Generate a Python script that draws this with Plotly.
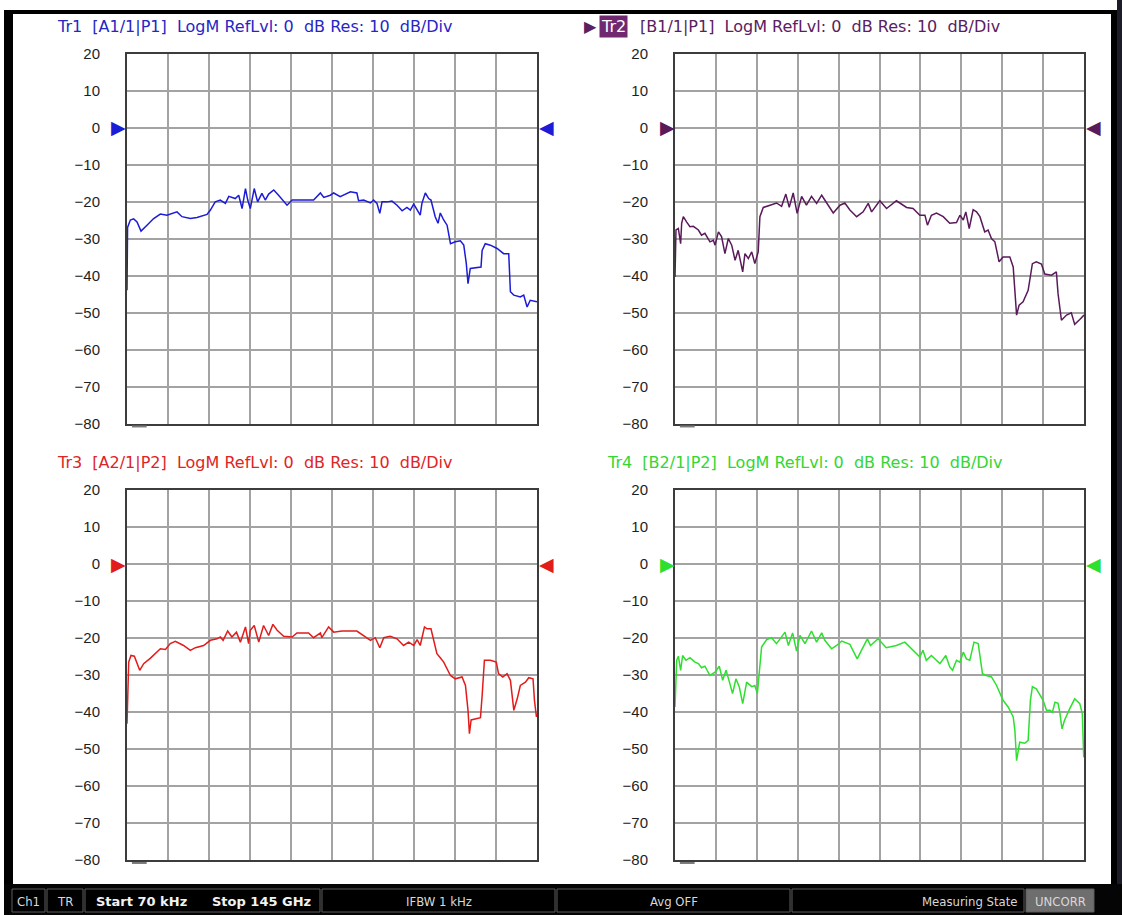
import plotly.graph_objects as go

# ------------------------------------------
# DATA (frequency in GHz, level in dB)
# ------------------------------------------
F_START, F_STOP = 0.00007, 145.0
REF_LEVEL = 0
Y_MIN, Y_MAX, Y_DIV = -80, 20, 10
TICK_VALS = [20, 10, 0, -10, -20, -30, -40, -50, -60, -70, -80]

TR1_GHZ = [0.00007, 0.1, 0.2, 1.18, 2.36, 3.54, 4.95, 7.07, 9.43, 11.79, 14.15, 17.68, 19.45, 22.4,
           24.76, 28.3, 29.5, 31.2, 33.0, 34.8, 36.0, 38.3, 39.5, 40.7, 41.9, 42.7, 43.6, 45.0, 46.2,
           47.7, 48.9, 50.1, 51.9, 53.6, 55.4, 56.6, 58.4, 61.3, 66.0, 68.4, 69.6, 71.9, 73.1, 75.4,
           76.6, 79.0, 81.3, 81.9, 83.7, 86.1, 87.2, 88.4, 89.4, 90.2, 92.0, 93.7, 95.5, 97.3, 99.0,
           100.2, 101.4, 102.6, 103.7, 104.3, 105.5, 106.7, 107.5, 109.0, 110.0, 110.8, 112.0, 113.2,
           114.4, 116.1, 117.9, 119.1, 120.0, 120.6, 121.4, 125.2, 125.6, 126.7, 128.5, 130.9, 133.2,
           135.0, 135.6, 136.8, 139.1, 140.3, 141.5, 142.6, 145.0]
TR1_DB = [-44.0, -37.5, -27.0, -25.0, -24.7, -25.5, -28.0, -26.4, -24.6, -23.4, -23.7, -22.8, -24.1,
          -24.6, -24.3, -23.5, -22.3, -20.1, -19.6, -20.5, -18.6, -19.2, -18.3, -21.9, -16.5, -19.6,
          -21.9, -16.5, -20.1, -17.8, -19.6, -18.0, -16.9, -18.3, -20.1, -21.0, -19.6, -19.6, -19.6,
          -17.7, -18.9, -18.3, -17.7, -18.7, -18.3, -17.4, -17.7, -19.8, -19.6, -20.4, -19.6, -20.5,
          -23.2, -20.1, -20.1, -19.9, -21.0, -22.5, -21.6, -22.3, -20.7, -22.2, -23.7, -20.5, -17.7,
          -19.2, -19.6, -24.1, -25.9, -23.1, -25.0, -26.4, -31.4, -30.9, -30.6, -31.8, -36.8, -42.2,
          -38.1, -37.7, -33.2, -31.4, -31.8, -32.7, -34.1, -34.1, -44.4, -45.3, -45.8, -45.3, -48.5,
          -46.7, -47.1]

TR2_GHZ = [0.00007, 0.1, 0.35, 1.18, 2.0, 2.36, 2.95, 4.1, 5.3, 6.5, 8.3, 9.4, 10.6, 12.4, 13.6, 14.2,
           15.4, 16.5, 17.7, 18.9, 20.1, 21.3, 22.4, 24.0, 24.8, 26.0, 27.2, 28.3, 29.5, 30.1, 31.3,
           33.7, 36.0, 37.8, 39.3, 40.5, 41.9, 43.3, 44.9, 46.6, 48.4, 50.2, 52.0, 53.1, 56.1, 58.5,
           60.2, 62.0, 64.4, 66.7, 68.5, 69.7, 72.6, 75.0, 78.5, 82.1, 84.4, 86.8, 88.6, 89.5, 90.9,
           92.7, 95.1, 97.4, 99.8, 101.0, 102.2, 103.1, 104.3, 105.7, 106.9, 108.1, 109.8, 111.0,
           112.2, 113.4, 114.9, 116.3, 118.7, 119.9, 120.5, 121.1, 122.0, 123.4, 125.2, 126.7, 128.1,
           129.9, 131.1, 133.5, 135.2, 135.8, 137.0, 138.8, 140.5, 141.7, 143.5, 145.0]
TR2_DB = [-40.4, -36.8, -27.7, -27.3, -31.4, -25.9, -24.1, -25.5, -26.8, -26.7, -27.7, -29.1, -28.6,
          -30.9, -30.5, -31.8, -28.2, -29.5, -34.1, -30.0, -31.8, -35.9, -33.2, -39.0, -34.1, -35.4,
          -33.6, -36.8, -33.6, -24.1, -21.6, -21.0, -20.4, -21.3, -18.0, -21.6, -17.7, -23.2, -18.6,
          -21.0, -18.6, -20.5, -18.3, -19.6, -23.1, -21.0, -20.4, -22.3, -24.1, -22.8, -20.5, -22.8,
          -19.8, -21.9, -19.8, -21.6, -21.9, -23.7, -23.7, -26.4, -23.7, -23.1, -24.1, -25.9, -25.7,
          -23.7, -25.0, -22.8, -27.3, -22.2, -22.8, -24.1, -28.2, -27.7, -30.0, -30.9, -36.3, -35.0,
          -35.0, -37.7, -44.9, -50.7, -48.0, -47.1, -44.0, -36.8, -36.3, -36.9, -39.6, -39.9, -39.0,
          -44.9, -52.1, -50.7, -50.1, -53.2, -51.9, -50.7]

TR3_GHZ = [0.00007, 0.25, 0.6, 1.4, 2.6, 4.5, 5.9, 8.3, 11.8, 13.6, 15.3, 17.1, 20.0, 22.4, 24.2, 27.1,
           29.5, 31.8, 33.0, 34.0, 35.6, 37.1, 38.7, 40.1, 41.9, 43.0, 43.6, 45.0, 46.6, 48.3, 50.1,
           51.6, 53.1, 55.4, 58.4, 60.1, 64.2, 66.0, 68.4, 68.9, 71.3, 73.1, 76.0, 81.3, 83.7, 86.1,
           87.8, 89.4, 90.8, 93.1, 95.5, 97.8, 99.6, 101.4, 102.6, 103.7, 105.2, 106.1, 107.5, 108.5,
           109.6, 110.8, 112.0, 114.4, 116.1, 118.5, 119.7, 120.6, 121.1, 121.7, 125.0, 125.6, 126.4,
           128.5, 130.6, 131.4, 132.9, 134.4, 135.6, 136.8, 138.0, 139.1, 140.9, 142.1, 143.6, 144.1,
           144.8, 145.0]
TR3_DB = [-43.2, -37.4, -26.6, -24.8, -25.0, -28.8, -27.0, -25.5, -23.0, -23.2, -21.6, -21.0, -22.1,
          -23.4, -22.7, -22.1, -20.7, -20.3, -19.8, -20.7, -18.2, -19.8, -18.5, -21.2, -17.1, -21.6,
          -18.0, -16.7, -21.2, -16.7, -19.4, -16.4, -18.0, -19.6, -19.8, -18.7, -18.7, -20.0, -18.7,
          -20.0, -17.1, -18.5, -18.2, -18.2, -19.4, -20.7, -20.0, -22.7, -20.0, -19.6, -20.3, -22.1,
          -21.2, -22.1, -20.5, -22.1, -17.1, -17.6, -17.6, -20.7, -24.3, -25.4, -26.6, -30.2, -31.1,
          -30.6, -32.9, -39.6, -45.9, -42.2, -41.6, -35.6, -26.1, -26.1, -26.6, -29.7, -30.6, -29.7,
          -31.5, -39.6, -36.5, -32.9, -32.0, -30.8, -31.1, -36.9, -41.4, -40.5]

TR4_GHZ = [0.00007, 0.25, 0.6, 1.2, 2.0, 2.7, 3.9, 5.3, 7.1, 8.3, 9.4, 10.6, 12.4, 14.2, 15.7, 16.9,
           18.1, 19.3, 20.4, 21.6, 22.8, 24.0, 25.4, 27.2, 28.3, 29.2, 29.9, 30.7, 32.5, 34.2, 36.0,
           37.4, 39.0, 40.2, 41.7, 43.1, 44.3, 46.1, 48.4, 50.2, 52.0, 53.1, 55.5, 57.3, 59.1, 62.0,
           64.6, 66.1, 68.2, 69.3, 72.0, 74.9, 78.5, 81.5, 84.4, 86.8, 87.9, 89.1, 90.9, 92.1, 93.9,
           96.0, 97.4, 98.4, 99.8, 101.0, 102.2, 103.3, 104.5, 106.0, 107.5, 109.0, 110.4, 112.2,
           114.0, 116.3, 118.1, 119.9, 120.5, 121.1, 122.2, 124.0, 125.2, 126.0, 126.7, 128.1, 130.5,
           131.7, 132.9, 133.8, 134.7, 135.8, 136.4, 137.2, 138.1, 139.9, 141.7, 143.5, 144.4, 144.9]
TR4_DB = [-38.7, -34.2, -26.1, -25.0, -28.8, -24.8, -26.1, -25.4, -26.6, -27.0, -28.1, -27.7, -30.2,
          -29.3, -27.7, -31.5, -28.8, -32.0, -35.1, -31.1, -33.3, -37.8, -32.0, -33.2, -32.9, -35.1,
          -29.7, -22.5, -20.5, -20.0, -21.6, -20.0, -18.5, -22.1, -18.7, -23.6, -19.4, -21.6, -18.2,
          -21.2, -18.7, -20.7, -23.0, -22.1, -20.9, -21.8, -25.7, -23.4, -20.3, -22.1, -20.3, -22.7,
          -22.1, -21.2, -23.4, -25.2, -23.4, -26.1, -24.8, -25.7, -27.0, -24.8, -27.9, -28.8, -26.1,
          -26.6, -23.9, -25.7, -26.1, -21.2, -21.6, -29.7, -30.2, -30.6, -32.9, -36.9, -38.7, -41.4,
          -45.0, -53.2, -48.2, -48.5, -47.7, -36.9, -33.2, -33.8, -36.9, -39.6, -39.6, -40.1, -37.4,
          -37.7, -40.1, -44.6, -42.3, -39.2, -36.5, -37.8, -40.5, -52.3]

TITLE_TAIL = "LogM RefLvl: 0\u00a0 dB Res: 10\u00a0 dB/Div"
TRACES = [
    # name, port label, x, y, line colour, title colour
    ("Tr1", "[A1/1|P1]", TR1_GHZ, TR1_DB, "#1c1cd6", "#2626c4"),
    ("Tr2", "[B1/1|P1]", TR2_GHZ, TR2_DB, "#5a1a5a", "#5a2060"),
    ("Tr3", "[A2/1|P2]", TR3_GHZ, TR3_DB, "#e31b1b", "#e02424"),
    ("Tr4", "[B2/1|P2]", TR4_GHZ, TR4_DB, "#2ee02e", "#33d633"),
]

STATUS = [  # x0, x1, text, anchor, fill
    (12, 45, "Ch1", "center", "#000000"),
    (47, 83, "TR", "center", "#000000"),
    (85, 320, "", "center", "#000000"),
    (322, 555, "IFBW 1 kHz", "center", "#000000"),
    (557, 790, "Avg OFF", "center", "#000000"),
    (792, 1024, "Measuring State", "right", "#000000"),
    (1026, 1094, "UNCORR", "center", "#6e6e6e"),
]
STATUS_BOLD = [(141, "Start 70 kHz"), (261, "Stop 145 GHz")]

# ------------------------------------------
# LAYOUT (pixels -> paper)
# ------------------------------------------
W, H = 1122, 915
GRID = "#a3a3a3"
FRAME = "#3c3c3c"
FONT = "Liberation Sans, Arial, sans-serif"
TITLE_FONT = "DejaVu Sans, sans-serif"
BAR_FONT = "DejaVu Sans Condensed, DejaVu Sans, sans-serif"


def px(x):
    return x / W


def py(y):
    return 1 - y / H


X_DOMAINS = [[px(127), px(537)], [px(675), px(1084)]]
Y_DOMAINS = [[py(423.5), py(53.5)], [py(860), py(489.5)]]
TITLE_Y = [27, 462]
REF_MARK_X = [(118, 546), (667, 1093)]   # Pixelmitte der Referenzpegel-Dreiecke

fig = go.Figure()
layout = {}

for i, (name, port, xs, ys, color, tcolor) in enumerate(TRACES):
    row, col = divmod(i, 2)
    n = "" if i == 0 else str(i + 1)
    xa, ya = f"x{n}", f"y{n}"

    fig.add_trace(go.Scatter(
        x=xs, y=ys, mode="lines", line=dict(color=color, width=1.5),
        xaxis=xa, yaxis=ya, showlegend=False, hoverinfo="skip"
    ))

    # Referenzpegel-Dreiecke (links / rechts)
    for mx, sym in zip(REF_MARK_X[col], ["\u25b6", "\u25c0"]):
        fig.add_annotation(x=px(mx), y=REF_LEVEL, xref="paper", yref=ya, text=sym, showarrow=False,
                           xanchor="center", yanchor="middle",
                           font=dict(family="DejaVu Sans, sans-serif", size=19, color=color))

    layout[f"xaxis{n}"] = dict(
        domain=X_DOMAINS[col], anchor=ya, range=[0, F_STOP], dtick=F_STOP / 10, tick0=0,
        showticklabels=False, ticks="", showgrid=True, gridcolor=GRID, gridwidth=1.5, automargin=False,
        zeroline=False, showline=True, mirror=True, linecolor=FRAME, linewidth=2, fixedrange=True,
    )
    layout[f"yaxis{n}"] = dict(
        domain=Y_DOMAINS[row], anchor=xa, range=[Y_MIN, Y_MAX], tickvals=TICK_VALS, automargin=False,
        ticks="", ticklabelstandoff=22, showgrid=True, gridcolor=GRID, gridwidth=1.5,
        zeroline=False, showline=True, mirror=True, linecolor=FRAME, linewidth=2, fixedrange=True,
        tickfont=dict(family=FONT, size=15, color="#1e1e1e"),
    )

    # kleine Markierung unter der linken unteren Ecke
    fig.add_shape(type="line", xref=f"{xa} domain", yref=f"{ya} domain",
                  x0=0.012, x1=0.048, y0=-0.008, y1=-0.008, line=dict(color="#7a7a7a", width=2))

    # Titelzeile
    ty = py(TITLE_Y[row])
    if name == "Tr2":
        fig.add_annotation(x=px(582), y=ty, xref="paper", yref="paper", text="\u25b6",
                           showarrow=False, xanchor="left", yanchor="middle",
                           font=dict(family="DejaVu Sans, sans-serif", size=16, color=tcolor))
        fig.add_annotation(x=px(599), y=ty, xref="paper", yref="paper", text=name,
                           showarrow=False, xanchor="left", yanchor="middle", bgcolor="#702870", borderpad=1,
                           font=dict(family=TITLE_FONT, size=16, color="white"))
        fig.add_annotation(x=px(638), y=ty, xref="paper", yref="paper",
                           text=f"{port}\u00a0 {TITLE_TAIL}", showarrow=False, xanchor="left", yanchor="middle",
                           font=dict(family=TITLE_FONT, size=16, color=tcolor))
    else:
        tx = 55 if col == 0 else 605
        fig.add_annotation(x=px(tx), y=ty, xref="paper", yref="paper",
                           text=f"{name}\u00a0 {port}\u00a0 {TITLE_TAIL}", showarrow=False,
                           xanchor="left", yanchor="middle",
                           font=dict(family=TITLE_FONT, size=16, color=tcolor))

# ------------------------------------------
# Rahmen + Statusleiste
# ------------------------------------------
frame_rects = [
    (4, 10, 1112, 14, "#000000"),
    (4, 10, 13, 915, "#000000"),
    (1111, 10, 1117, 888, "#000000"),
    (1117, 0, 1122, 915, "#1c1c28"),
    (4, 884, 1122, 915, "#050505"),
]
for x0, y0, x1, y1, c in frame_rects:
    fig.add_shape(type="rect", xref="paper", yref="paper", x0=px(x0), x1=px(x1), y0=py(y1), y1=py(y0),
                  fillcolor=c, line=dict(width=0), layer="above")

for x0, x1, text, anchor, fill in STATUS:
    fig.add_shape(type="rect", xref="paper", yref="paper", x0=px(x0), x1=px(x1), y0=py(912), y1=py(889),
                  fillcolor=fill, line=dict(color="#5c5c5c", width=1), layer="above")
    if text:
        xpos = (x0 + x1) / 2 if anchor == "center" else x1 - 4
        fig.add_annotation(x=px(xpos), y=py(901), xref="paper", yref="paper", text=text, showarrow=False,
                           xanchor=anchor, yanchor="middle", font=dict(family=BAR_FONT, size=13, color="#d8d8d8"))

for xpos, text in STATUS_BOLD:
    fig.add_annotation(x=px(xpos), y=py(901), xref="paper", yref="paper", text=f"<b>{text}</b>",
                       showarrow=False, xanchor="center", yanchor="middle",
                       font=dict(family="DejaVu Sans, sans-serif", size=13, color="#f2f2f2"))

fig.update_layout(
    width=W, height=H, autosize=False,
    margin=dict(l=0, r=0, t=0, b=0, pad=0, autoexpand=False),
    paper_bgcolor="white", plot_bgcolor="white",
    font=dict(family=FONT, size=15),
    dragmode=False,
    **layout,
)

fig.write_html("out.html", config={"displayModeBar": False},
               post_script="document.body.style.margin='0';")
